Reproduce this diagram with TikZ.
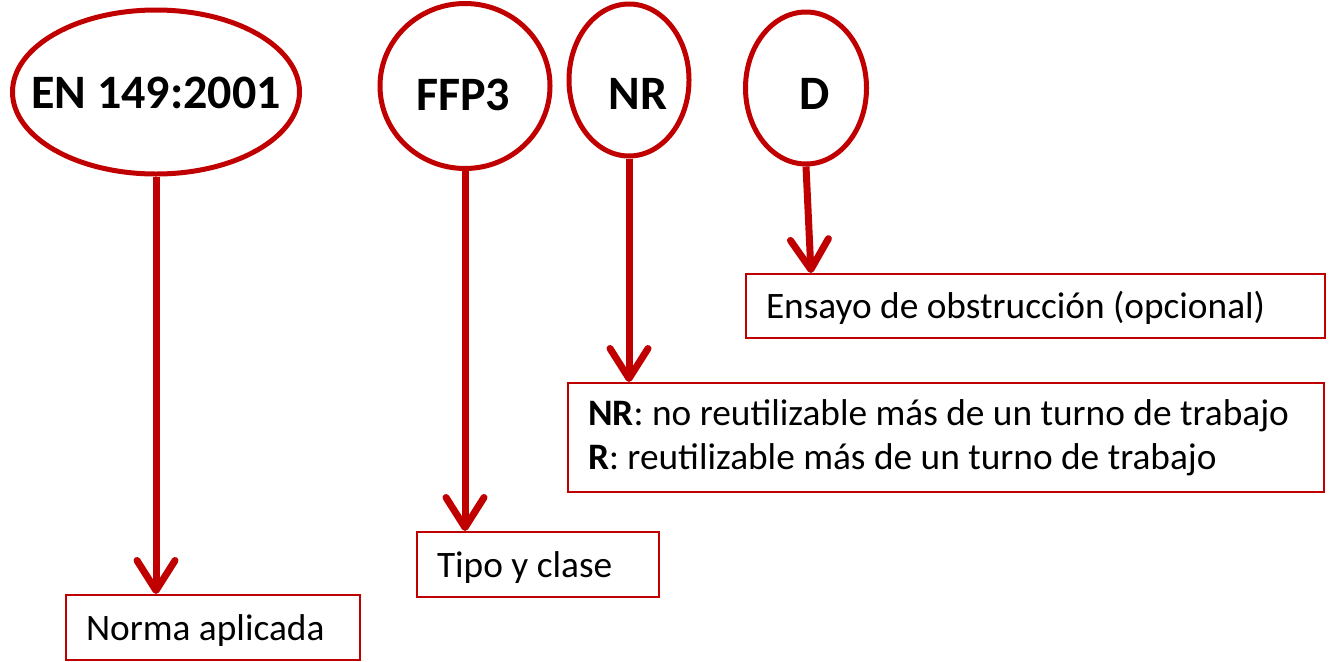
\documentclass[tikz,border=0pt]{standalone}
\usepackage{fontspec}
\setmainfont{Carlito}
\usetikzlibrary{shapes.geometric,arrows.meta}
\definecolor{mred}{HTML}{C00000}
\newcommand\ovaltext[2]{\makebox[0pt]{\hspace*{#2}#1}}
\newcommand\lline[2]{\makebox[#1][l]{#2}}
\tikzset{
  oval/.style={ellipse,draw=mred,line width=3.75pt,inner sep=0pt,text depth=0pt,font=\fontsize{36pt}{40pt}\selectfont\bfseries},
  labelbox/.style={rectangle,draw=mred,line width=1.5pt,inner xsep=15pt,inner ysep=0pt,align=left,font=\fontsize{28pt}{33pt}\selectfont},
  oneline/.style={text height=20pt,text depth=1pt},
  conn/.style={draw=mred,line width=5.25pt,-{Straight Barb[length=22.5pt,width=28.5pt,round]}}
}
\begin{document}
\begin{tikzpicture}[x=0.75pt,y=-0.75pt]
\useasboundingbox (0,0) rectangle (1333,661);
% ovals
\node[oval,text height=25pt,minimum width=215.25pt,minimum height=123pt] (en) at (156,92) {\ovaltext{EN 149:2001}{0pt}};
\node[oval,text height=36.3pt,minimum width=127.5pt,minimum height=123.75pt] (ffp) at (465,86) {\ovaltext{FFP3}{-3pt}};
\node[oval,text height=43.8pt,minimum width=90pt,minimum height=114pt] (nr) at (629,80) {\ovaltext{NR}{13.5pt}};
\node[oval,text height=31.8pt,minimum width=90.75pt,minimum height=114pt] (d) at (806,88) {\ovaltext{D}{13.5pt}};
% boxes
\node[labelbox,oneline,minimum width=220.5pt,minimum height=48.75pt] (norma) at (213,627.5) {\lline{190.5pt}{Norma aplicada}};
\node[labelbox,oneline,minimum width=181.5pt,minimum height=48.75pt] (tipo) at (538,564.5) {\lline{151.5pt}{Tipo y clase}};
\node[labelbox,minimum width=567pt,minimum height=81.75pt] (reut) at (946,437.5) {\lline{537pt}{\textbf{NR}: no reutilizable más de un turno de trabajo}\\\lline{537pt}{\textbf{R}: reutilizable más de un turno de trabajo}};
\node[labelbox,oneline,minimum width=434.25pt,minimum height=48pt] (ens) at (1035.5,306) {\lline{404.25pt}{Ensayo de obstrucción (opcional)}};
% connectors
\coordinate (dend) at ([xshift=3.75pt]d.south |- ens.north);
\draw[conn] (en.south) -- (en.south |- norma.north);
\draw[conn] (ffp.south) -- (ffp.south |- tipo.north);
\draw[conn] (nr.south) -- (nr.south |- reut.north);
\draw[conn] (d.south) -- (dend);
\end{tikzpicture}
\end{document}
